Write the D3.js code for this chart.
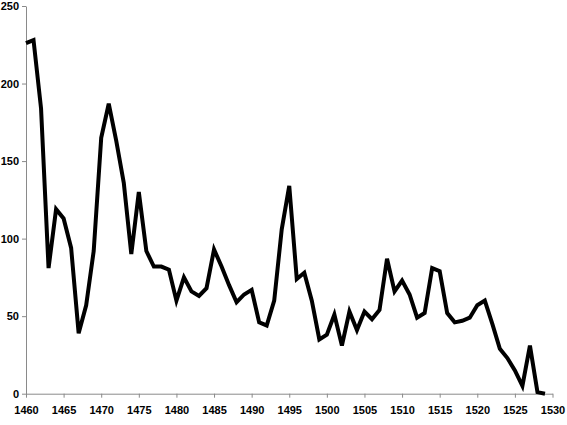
<!DOCTYPE html>
<html><head><meta charset="utf-8">
<script src="https://cdn.jsdelivr.net/npm/d3@7"></script>
<style>body{margin:0;background:#fff}svg{display:block}</style>
</head><body>
<svg id="c" width="567" height="425"></svg>
<script>
const years = d3.range(1460, 1530);
const values = [226,228,184,81,119,113,94,39,57,92,
  165,187,163,136,90,130,92,82,82,80,
  60,75,66,63,68,93,82,70,59,64,
  67,46,44,60,106,134,74,78,60,35,
  38,51,31,53,41,53,48,54,87,66,
  73,64,49,52,81,79,52,46,47,49,
  57,60,45,29,23,15,5,31,1,0];
const xTicks = [1460,1465,1470,1475,1480,1485,1490,1495,1500,1505,1510,1515,1520,1525,1530];
const yTicks = [0,50,100,150,200,250];

const svg = d3.select("#c");
const x = d3.scaleLinear().domain([1460,1530]).range([26,552.5]);
const y = d3.scaleLinear().domain([0,250]).range([393.7,6]);

const xAxis = svg.append("g").attr("transform","translate(0,393.7)")
  .call(d3.axisBottom(x).tickValues(xTicks).tickFormat(d3.format("d")).tickSize(4).tickSizeOuter(0));
const yAxis = svg.append("g").attr("transform","translate(26,0)")
  .call(d3.axisLeft(y).tickValues(yTicks).tickSize(4).tickSizeOuter(0));
[xAxis,yAxis].forEach(a=>{
  a.selectAll("path,line").attr("stroke","#8a8a8a").attr("stroke-width",1);
  a.selectAll("text").attr("font-family","'Liberation Sans', Arial, sans-serif")
   .attr("font-weight","bold").attr("font-size","11px").attr("fill","#000");
});
xAxis.selectAll("text").attr("dy","1.25em");
yAxis.selectAll("text").attr("x",-7);

svg.append("path").datum(values)
  .attr("fill","none").attr("stroke","#000").attr("stroke-width",4)
  .attr("stroke-linejoin","miter")
  .attr("d", d3.line().x((d,i)=>x(years[i])).y(d=>y(d)));
</script>
</body></html>
